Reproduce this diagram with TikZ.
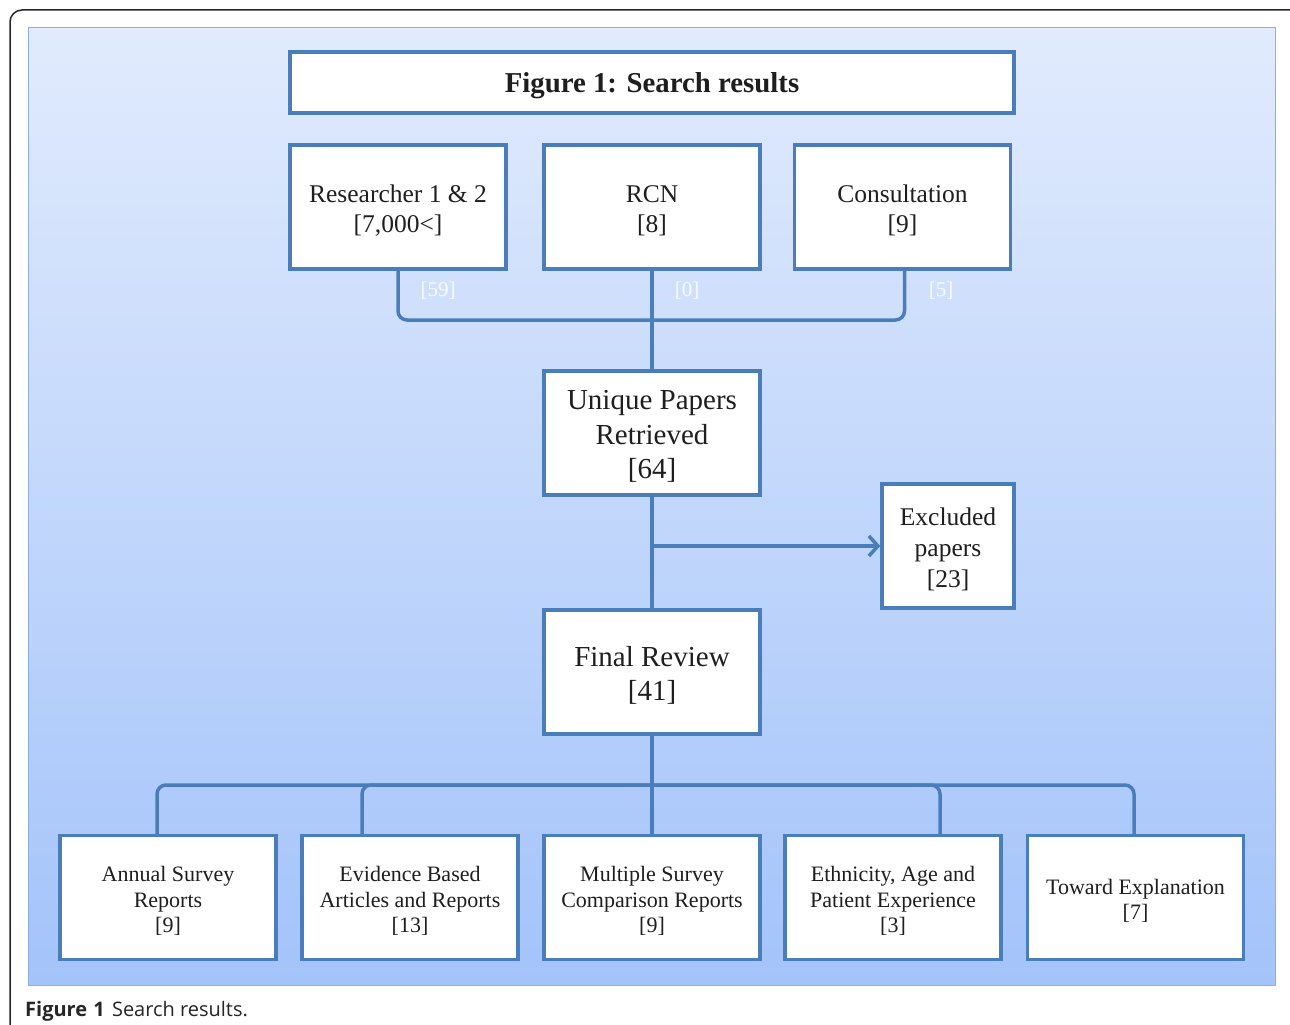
\documentclass[tikz,border=0pt]{standalone}
\usepackage{fontspec}
\setmainfont{Liberation Serif}
\newfontfamily\capfont{Open Sans}
\usetikzlibrary{arrows.meta,shadows}
\definecolor{bgtop}{RGB}{225,235,253}
\definecolor{bgbot}{RGB}{163,195,250}
\definecolor{bgedge}{RGB}{140,175,230}
\definecolor{boxline}{RGB}{74,126,187}
\definecolor{txt}{RGB}{30,30,30}
\tikzset{
  box/.style={draw=boxline, line width=3.5pt, fill=white, inner sep=0pt,
    drop shadow={shadow xshift=1.5pt, shadow yshift=-1.5pt, fill=black, opacity=0.25}},
  boxtext/.style={align=center, text=txt, inner sep=0pt, yshift=-3.5pt},
  topbox/.style={box, minimum width=216pt, minimum height=124pt,
    label={[boxtext, font=\fontsize{25.5}{30}\selectfont]center:#1}},
  midbox/.style={box, minimum width=216pt, minimum height=124pt,
    label={[boxtext, font=\fontsize{29}{34.5}\selectfont]center:#1}},
  botbox/.style={box, minimum width=216pt, minimum height=124pt,
    label={[boxtext, font=\fontsize{22}{25.5}\selectfont]center:#1}},
  exbox/.style={box, minimum width=132pt, minimum height=124pt,
    label={[boxtext, font=\fontsize{25.5}{31}\selectfont]center:#1}},
  titlebox/.style={box, minimum width=724pt, minimum height=61pt,
    label={[boxtext, yshift=0.5pt, font=\bfseries\fontsize{28.8}{32}\selectfont]center:#1}},
  conn/.style={draw=boxline, line width=3.5pt, rounded corners=9pt},
  flowlbl/.style={text=white, opacity=0.85, font=\fontsize{21}{24}\selectfont},
}
\begin{document}
\begin{tikzpicture}[x=1pt,y=-1pt]
\useasboundingbox (0,0) rectangle (1290,1025);
\fill[white] (0,0) rectangle (1290,1025);
% outer frame
\draw[line width=1.5pt, draw=black!85, rounded corners=12pt] (1290,10) -- (10,10) -- (10,1025);
% background panel
\shade[top color=bgtop, bottom color=bgbot] (28,28) rectangle (1275,985);
\draw[bgedge, line width=1pt] (28,28) rectangle (1275,985);

\node[titlebox={Figure 1: Search results}] (title) at (652,82.5) {};

\node[topbox={Researcher 1 \& 2\\{}[7,000<]}] (res) at (398,207) {};
\node[topbox={RCN\\{}[8]}] (rcn) at (652,207) {};
\node[topbox={Consultation\\{}[9]}] (con) at (902.5,207) {};

\node[midbox={Unique Papers\\Retrieved\\{}[64]}] (uniq) at (652,433) {};
\node[exbox={Excluded\\papers\\{}[23]}] (excl) at (948,546) {};
\node[midbox={Final Review\\{}[41]}] (final) at (652,672) {};

\node[botbox={Annual Survey\\Reports\\{}[9]}] (b1) at (168,897.5) {};
\node[botbox={Evidence Based\\Articles and Reports\\{}[13]}] (b2) at (410,897.5) {};
\node[botbox={Multiple Survey\\Comparison Reports\\{}[9]}] (b3) at (652,897.5) {};
\node[botbox={Ethnicity, Age and\\Patient Experience\\{}[3]}] (b4) at (893,897.5) {};
\node[botbox={Toward Explanation\\{}[7]}] (b5) at (1135.5,897.5) {};

% connectors top
\coordinate (j1) at (652,320);
\coordinate (j2) at (652,546);
\coordinate (j3) at (652,785);
\draw[conn] (res.south) |- (j1) -| ([xshift=2pt]con.south);
\draw[conn] (rcn.south) -- (uniq.north);
\node[flowlbl] (l59) at (438,291) {[59]};
\node[flowlbl] (l0) at (687,291) {[0]};
\node[flowlbl] (l5) at (941,291) {[5]};

\draw[conn] (uniq.south) -- (final.north);
\draw[conn, -{Straight Barb[length=9pt,width=20pt,line width=3.5pt]}] (j2) -- (excl.west);

% bottom connectors
\draw[conn] (final.south) -- (b3.north);
\draw[conn] ([xshift=-11pt]b1.north) |- (j3) -| ([xshift=-1.5pt]b5.north);
\draw[conn] ([xshift=-48pt]b2.north) |- (j3);
\draw[conn] ([xshift=47pt]b4.north) |- (j3);

% caption
\node[anchor=west, inner sep=0pt, text=black!85, font=\capfont\fontsize{20}{24}\selectfont] (cap) at (25,1011) {\textbf{Figure\hspace{1pt} 1}\hspace{2pt} Search results.};
\end{tikzpicture}
\end{document}
